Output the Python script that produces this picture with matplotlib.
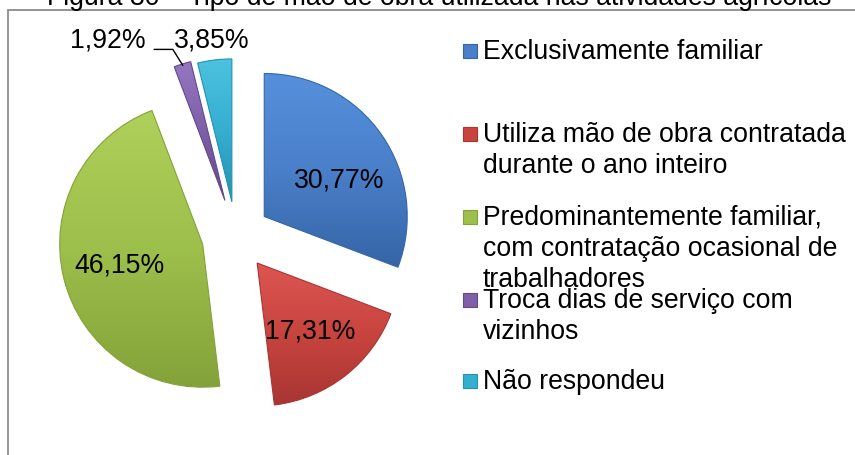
import matplotlib
matplotlib.use('Agg')
import matplotlib.pyplot as plt
import numpy as np
from matplotlib.colors import LinearSegmentedColormap
from matplotlib.patches import Rectangle

plt.rcParams['font.family'] = ['Liberation Sans', 'DejaVu Sans']

title = "Figura 30 – Tipo de mão de obra utilizada nas atividades agrícolas"
categories = [
    "Exclusivamente familiar",
    "Utiliza mão de obra contratada\ndurante o ano inteiro",
    "Predominantemente familiar,\ncom contratação ocasional de\ntrabalhadores",
    "Troca dias de serviço com\nvizinhos",
    "Não respondeu",
]
values = [30.77, 17.31, 46.15, 1.92, 3.85]
# (light, mid, dark) per slice
shades = [
    ("#5690dc", "#4a7fc9", "#3565a6"),
    ("#dc5652", "#c8443f", "#a83532"),
    ("#afd05a", "#9dbf4b", "#84a23a"),
    ("#9477c0", "#7e5fa8", "#634989"),
    ("#4cc2e0", "#35aed0", "#2592b2"),
]
explode_frac = [0.24, 0.24, 0.24, 0.26, 0.24]

W, H = 855, 456
FS = 19.2
fig = plt.figure(figsize=(W / 100, H / 100), dpi=100)
ax = fig.add_axes([0, 0, 1, 1])
ax.axis('off')

R = 143
wedges, texts, autotexts = ax.pie(
    values, startangle=90, counterclock=False,
    explode=[e * R for e in explode_frac],
    radius=R, center=(236, H - 237), frame=False,
    autopct=lambda p: f"{p:.2f}%".replace('.', ','), pctdistance=0.6,
    textprops=dict(fontsize=FS, color='black'),
    wedgeprops=dict(linewidth=0.8))

# gradient fill clipped to each wedge
for w, (light, mid, dark) in zip(wedges, shades):
    w.set_edgecolor(dark)
    ext = w.get_path().get_extents()
    cmap = LinearSegmentedColormap.from_list('g', [dark, mid, light])
    grad = np.linspace(0, 1, 256).reshape(-1, 1)
    im = ax.imshow(grad, extent=[ext.x0, ext.x1, ext.y0, ext.y1],
                   origin='lower', cmap=cmap, aspect='auto',
                   interpolation='bilinear', zorder=w.get_zorder() + 0.1)
    im.set_clip_path(w)
    w.set_zorder(w.get_zorder() + 0.2)
    w.set_facecolor('none')

for t in autotexts:
    t.set_zorder(5)

# Excel put the blue label a bit lower/right than the mid-angle
bx, by = autotexts[0].get_position()
autotexts[0].set_position((bx + 4, by - 12))

# small slices: labels outside, with a leader for the purple one
autotexts[4].set_position((212, H - 40))
autotexts[4].set_ha('center')
autotexts[4].set_va('center')

wp = wedges[3]
mid_ang = np.deg2rad((wp.theta1 + wp.theta2) / 2)
tip = (wp.center[0] + 0.99 * wp.r * np.cos(mid_ang),
       wp.center[1] + 0.99 * wp.r * np.sin(mid_ang))
autotexts[3].set_visible(False)
ax.annotate(autotexts[3].get_text(), xy=tip, xytext=(108, H - 40),
            ha='center', va='center', fontsize=FS,
            arrowprops=dict(arrowstyle='-', color='black', lw=1,
                            relpos=(1, 0.1), shrinkA=4, shrinkB=0,
                            connectionstyle='angle,angleA=0,angleB=122,rad=0'))

ax.set_xlim(0, W)
ax.set_ylim(0, H)
ax.set_aspect('equal')

# legend drawn by hand
entry_base = [59, 142, 225, 308, 389]
line_gap = 31
for lab, (light, mid, dark), yb in zip(categories, shades, entry_base):
    ax.add_patch(Rectangle((463, H - yb + 0.5), 14, 14, facecolor=mid,
                           edgecolor=dark, lw=0.8))
    for k, line in enumerate(lab.split('\n')):
        ax.text(483, H - yb - k * line_gap, line, fontsize=FS,
                ha='left', va='baseline')

# title (partly cut at the top) and chart frame
fig.text(439 / W, (H - 5) / H, title, fontsize=FS, ha='center',
         va='baseline')
fig.add_artist(Rectangle((8 / W, -0.1), 1.2, (H - 11) / H + 0.1,
                         transform=fig.transFigure, fill=False,
                         edgecolor='#8c8c8c', lw=1.3))

fig.savefig('out.png', dpi=100)
